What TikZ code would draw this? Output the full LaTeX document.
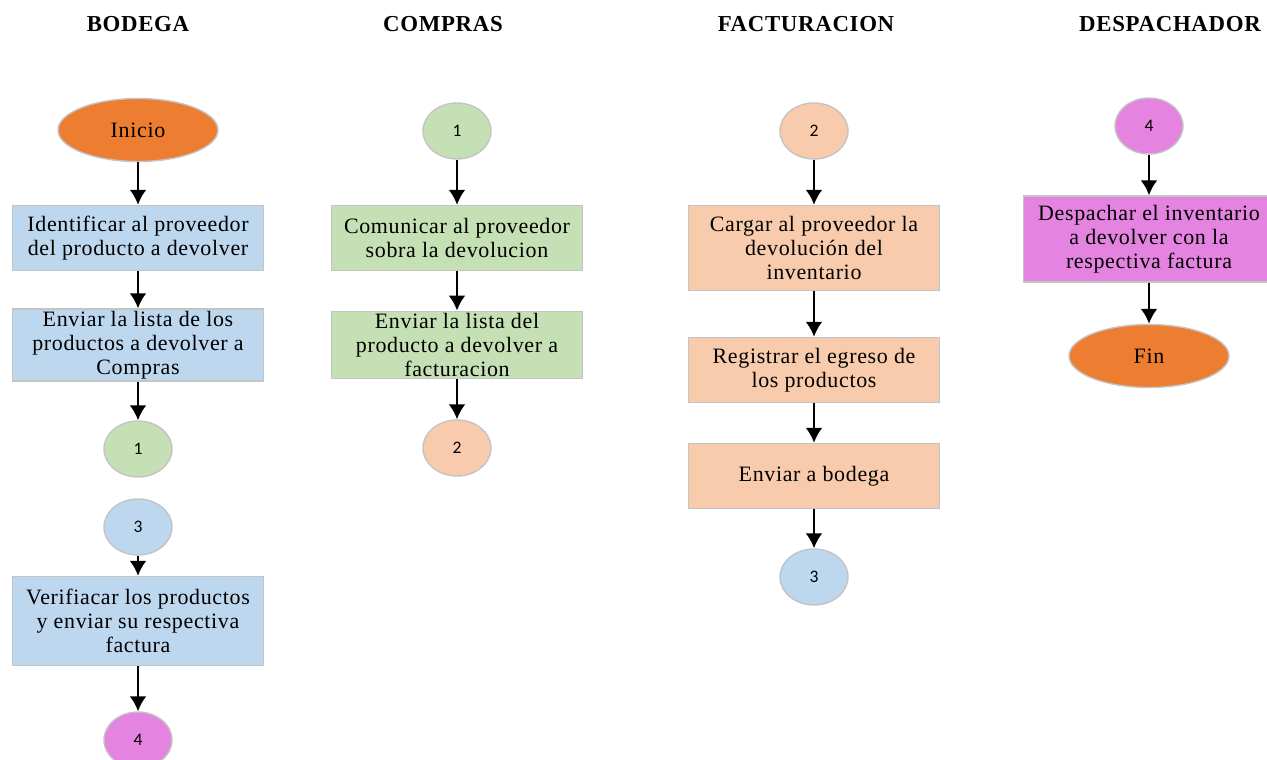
\documentclass[tikz,border=0pt]{standalone}
\usepackage{fontspec}
\setmainfont[LetterSpace=3]{Liberation Serif}
\newfontfamily\digitfont{Carlito}
\usetikzlibrary{arrows.meta,shapes.geometric}
\definecolor{naranja}{HTML}{ED7D31}
\definecolor{azul}{HTML}{BDD7EE}
\definecolor{verde}{HTML}{C5E0B4}
\definecolor{durazno}{HTML}{F8CBAD}
\definecolor{rosa}{HTML}{E483E0}
\definecolor{borde}{HTML}{C4C4C4}
\tikzset{>={Latex[length=3mm,width=3.4mm]}}
\tikzset{
  paso/.style={draw=borde,line width=0.8pt,minimum width=5.02cm,minimum height=1.3cm,
    align=center,font=\fontsize{12.5}{13.8}\selectfont,inner sep=1pt},
  conector/.style={draw=borde,line width=0.8pt,ellipse,minimum width=1.36cm,minimum height=1.12cm,
    inner sep=0pt,font=\digitfont\fontsize{10}{12}\selectfont},
  terminal/.style={draw=borde,line width=0.8pt,ellipse,fill=naranja,minimum width=3.2cm,
    minimum height=1.26cm,font=\fontsize{12.5}{14}\selectfont},
  titulo/.style={font=\bfseries\fontsize{13}{15}\selectfont},
  flecha/.style={->,line width=1.5pt}
}
\begin{document}
\begin{tikzpicture}[x=0.02cm,y=-0.02cm]
            \useasboundingbox (0,0) rectangle (1267,760);
            % titulos
            \node[titulo] (tbodega) at (138,24) {BODEGA};
            \node[titulo] (tcompras) at (443,24) {COMPRAS};
            \node[titulo] (tfact) at (806,24) {FACTURACION};
            \node[titulo] (tdesp) at (1170,24) {DESPACHADOR};
            % bodega
            \node[terminal] (inicio) at (138,130) {Inicio};
            \node[paso,fill=azul] (identificar) at (138,238) {Identificar al proveedor\\del producto a devolver};
            \node[paso,fill=azul] (enviarlista) at (138,345) {Enviar la lista de los\\productos a devolver a\\Compras};
            \node[conector,fill=verde] (b1) at (138,449) {1};
            \node[conector,fill=azul] (b3) at (138,527) {3};
            \node[paso,fill=azul,minimum height=1.78cm] (verificar) at (138,621) {Verifiacar los productos\\y enviar su respectiva\\factura};
            \node[conector,fill=rosa] (b4) at (138,740) {4};
            \draw[flecha] (inicio) -- (identificar);
            \draw[flecha] (identificar) -- (enviarlista);
            \draw[flecha] (enviarlista) -- (b1);
            \draw[flecha] (b3) -- (verificar);
            \draw[flecha] (verificar) -- (b4);
            % compras
            \node[conector,fill=verde] (c1) at (457,131) {1};
            \node[paso,fill=verde] (comunicar) at (457,238) {Comunicar al proveedor\\sobra la devolucion};
            \node[paso,fill=verde] (enviarfact) at (457,345) {Enviar la lista del\\producto a devolver a\\facturacion};
            \node[conector,fill=durazno] (c2) at (457,448) {2};
            \draw[flecha] (c1) -- (comunicar);
            \draw[flecha] (comunicar) -- (enviarfact);
            \draw[flecha] (enviarfact) -- (c2);
            % facturacion
            \node[conector,fill=durazno] (f2) at (814,131) {2};
            \node[paso,fill=durazno,minimum height=1.7cm] (cargar) at (814,248) {Cargar al proveedor la\\devolución del\\inventario};
            \node[paso,fill=durazno] (registrar) at (814,370) {Registrar el egreso de\\los productos};
            \node[paso,fill=durazno] (enviarbod) at (814,476) {Enviar a bodega};
            \node[conector,fill=azul] (f3) at (814,577) {3};
            \draw[flecha] (f2) -- (cargar);
            \draw[flecha] (cargar) -- (registrar);
            \draw[flecha] (registrar) -- (enviarbod);
            \draw[flecha] (enviarbod) -- (f3);
            % despachador
            \node[conector,fill=rosa] (d4) at (1149,126) {4};
            \node[paso,fill=rosa,minimum height=1.72cm] (despachar) at (1149,239) {Despachar el inventario\\a devolver con la\\respectiva factura};
            \node[terminal] (fin) at (1149,356) {Fin};
            \draw[flecha] (d4) -- (despachar);
            \draw[flecha] (despachar) -- (fin);
        \end{tikzpicture}
\end{document}
